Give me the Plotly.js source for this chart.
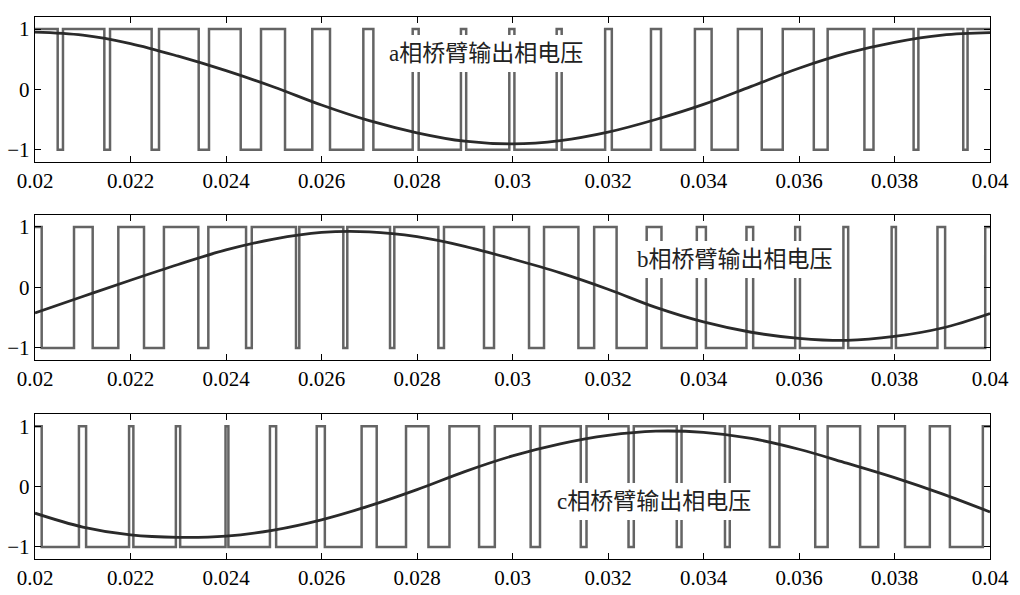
<!DOCTYPE html>
<html><head><meta charset="utf-8">
<script src="https://cdn.plot.ly/plotly-3.0.1.min.js"></script>
<style>html,body{margin:0;padding:0;background:#fff}#chart{width:1020px;height:595px}</style>
</head><body><div id="chart"></div>
<script>
// time span (s)
const tStart = 0.02;
const tEnd = 0.04;

const sineTime = [0.020,0.021,0.022,0.023,0.024,0.025,0.026,0.027,0.028,0.029,0.030,
                  0.031,0.032,0.033,0.034,0.035,0.036,0.037,0.038,0.039,0.040];
const sineA = [0.95,0.90,0.76,0.55,0.31,0.04,-0.26,-0.52,-0.72,-0.86,-0.905,
               -0.85,-0.71,-0.50,-0.25,0.05,0.35,0.60,0.78,0.90,0.94];
const sineB = [-0.42,-0.15,0.12,0.38,0.62,0.80,0.91,0.92,0.84,0.68,0.47,
               0.24,-0.03,-0.33,-0.57,-0.74,-0.84,-0.875,-0.81,-0.67,-0.43];
const sineC = [-0.44,-0.67,-0.80,-0.84,-0.82,-0.72,-0.55,-0.32,-0.05,0.25,0.51,
               0.71,0.85,0.92,0.90,0.80,0.62,0.39,0.15,-0.12,-0.42];

// PWM switching instants (s); level starts at +1 and toggles
const pwmA = [0.020475,0.020586,0.021452,0.021571,0.022443,0.022597,0.023428,0.023644,
              0.024308,0.024733,0.025236,0.025807,0.026178,0.026876,0.027086,0.02791,
              0.028035,0.02892,0.02903,0.029933,0.03004,0.030925,0.03103,0.03194,
              0.03208,0.0329,0.03311,0.03382,0.03417,0.03472,0.03522,0.03566,
              0.03631,0.0366,0.03737,0.03756,0.0384,0.0385,0.03944,0.03953];
const pwmB = [0.02014,0.020817,0.021208,0.021745,0.022283,0.0227,0.02342,0.02363,
              0.02442,0.02454,0.025466,0.025535,0.026457,0.02654,0.027435,0.027525,
              0.028447,0.028565,0.029403,0.029613,0.030346,0.03066,0.03138,0.03171,
              0.03218,0.03281,0.03312,0.03386,0.03405,0.0349,0.03504,0.03592,
              0.03602,0.03693,0.03703,0.03794,0.03803,0.0389,0.03906,0.0399];
const pwmC = [0.02014,0.02092,0.02107,0.02197,0.02206,0.02295,0.02304,0.02399,
              0.02405,0.02492,0.02505,0.0259,0.02607,0.02684,0.027156,0.02777,
              0.02824,0.02868,0.0293,0.02963,0.03038,0.030576,0.03143,0.03155,
              0.03243,0.03254,0.03344,0.03354,0.03445,0.03455,0.03539,0.03559,
              0.03634,0.0366,0.03728,0.03766,0.03822,0.03874,0.03916,0.03985];
const pwmStartLevel = [1, 1, 1];

// axis ticks
const xTickVals = [0.02,0.022,0.024,0.026,0.028,0.03,0.032,0.034,0.036,0.038,0.04];
const xTickText = ['0.02','0.022','0.024','0.026','0.028','0.03','0.032','0.034','0.036','0.038','0.04'];
const yTickVals = [-1, 0, 1];
const yTickText = ['\u22121', '0', '1'];

// panel labels
const panelLabels = ['a相桥臂输出相电压', 'b相桥臂输出相电压', 'c相桥臂输出相电压'];

function stepTrace(sw, start, ax) {
  const x = [tStart], y = [start];
  let lvl = start;
  sw.forEach(t => { lvl = -lvl; x.push(t); y.push(lvl); });
  x.push(tEnd); y.push(lvl);
  return {x, y, xaxis: 'x' + ax, yaxis: 'y' + ax, type: 'scatter', mode: 'lines',
          line: {shape: 'hv', color: '#646464', width: 2.5}, hoverinfo: 'skip', showlegend: false};
}
function sineTrace(vals, ax) {
  return {x: sineTime, y: vals, xaxis: 'x' + ax, yaxis: 'y' + ax, type: 'scatter', mode: 'lines',
          line: {shape: 'spline', smoothing: 1, color: '#2a2a2a', width: 2.8}, hoverinfo: 'skip', showlegend: false};
}

const pwms = [pwmA, pwmB, pwmC];
const sines = [sineA, sineB, sineC];
const traces = [];
for (let i = 0; i < 3; i++) {
  const ax = i === 0 ? '' : String(i + 1);
  traces.push(stepTrace(pwms[i], pwmStartLevel[i], ax));
  traces.push(sineTrace(sines[i], ax));
}

const tickFont = {family: 'Liberation Serif, Times New Roman, serif', size: 21, color: '#000'};
const domains = [[0.733, 1.0], [0.367, 0.635], [0.0, 0.267]];
const layout = {
  width: 1020, height: 595,
  margin: {l: 35, r: 30, t: 17, b: 36},
  paper_bgcolor: '#fff', plot_bgcolor: '#fff',
  showlegend: false,
  annotations: []
};
const labelPos = [[0.029445, 0.6], [0.03465, 0.47], [0.03296, -0.25]];
for (let i = 0; i < 3; i++) {
  const s = i === 0 ? '' : String(i + 1);
  layout['xaxis' + s] = {
    domain: [0, 1], anchor: 'y' + s, range: [tStart, tEnd],
    tickmode: 'array', tickvals: xTickVals, ticktext: xTickText,
    ticks: 'inside', ticklen: 6, tickwidth: 1, tickcolor: '#000',
    showline: true, linecolor: '#000', linewidth: 1.2, mirror: 'ticks',
    showgrid: false, zeroline: false, tickfont: tickFont
  };
  layout['yaxis' + s] = {
    domain: domains[i], anchor: 'x' + s, range: [-1.2, 1.2],
    tickmode: 'array', tickvals: yTickVals, ticktext: yTickText,
    ticks: 'inside', ticklen: 6, tickwidth: 1, tickcolor: '#000',
    showline: true, linecolor: '#000', linewidth: 1.2, mirror: 'ticks',
    showgrid: false, zeroline: false, tickfont: tickFont
  };
  layout.annotations.push({
    xref: 'x' + s, yref: 'y' + s, x: labelPos[i][0], y: labelPos[i][1],
    text: panelLabels[i], showarrow: false,
    font: {family: 'Liberation Serif, Noto Sans CJK SC, serif', size: 23, color: '#222'},
    bgcolor: '#fff', borderpad: 6, borderwidth: 0
  });
}

Plotly.newPlot('chart', traces, layout, {displayModeBar: false, staticPlot: true});
</script>
</body></html>
